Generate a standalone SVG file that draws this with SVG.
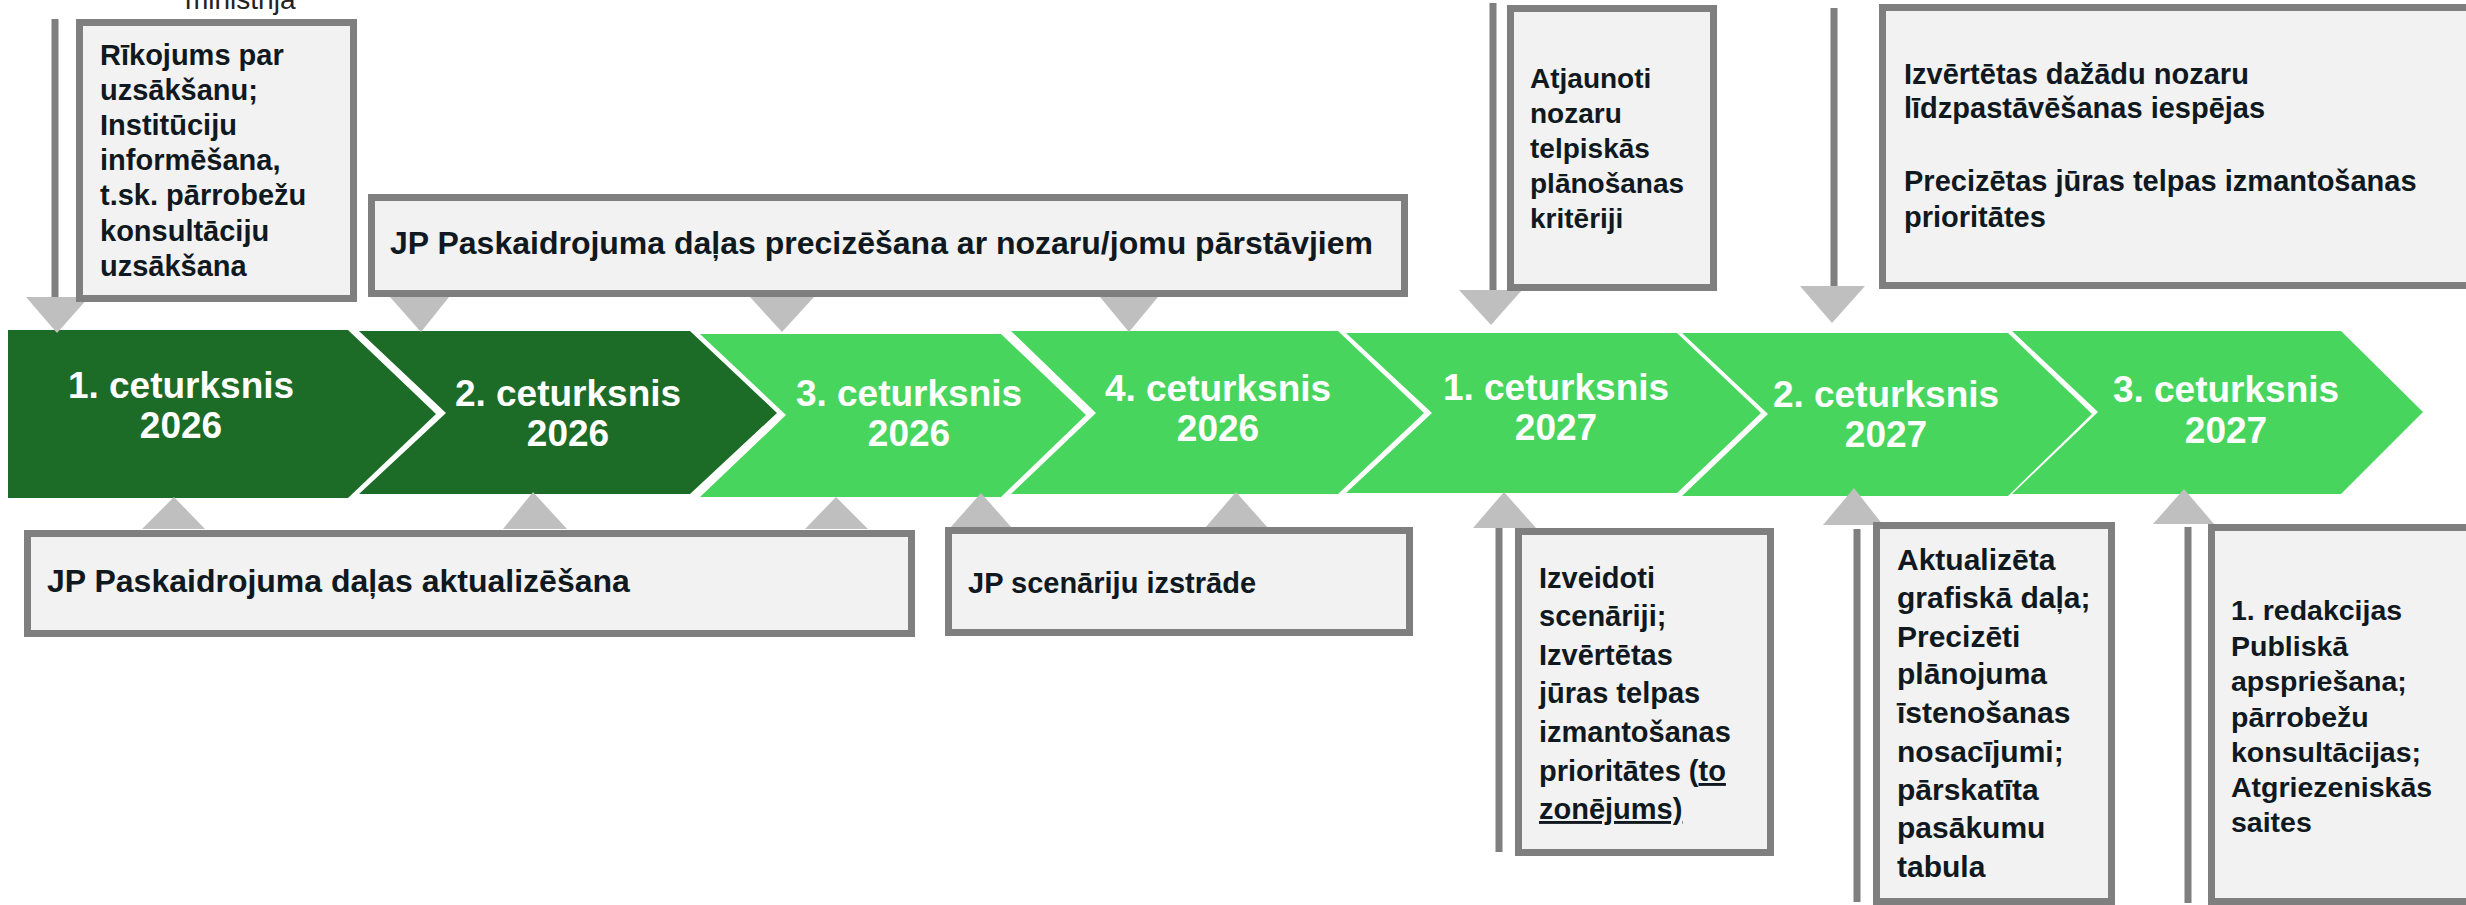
<svg xmlns="http://www.w3.org/2000/svg" width="2466" height="905" viewBox="0 0 2466 905">
<style>
.dk{fill:#1C6B26}
.lt{fill:#48D55D}
.ql{font-family:"Liberation Sans",Arial,sans-serif;font-weight:bold;font-size:37px;fill:#ffffff;text-anchor:middle}
.box{fill:#F2F2F2;stroke:#7F7F7F;stroke-width:7}
.tx{font-family:"Liberation Sans",Arial,sans-serif;font-weight:bold;fill:#101820}
.tri{fill:#BFBFBF}
.bar{stroke:#7F7F7F;stroke-width:7;fill:none}
.u{text-decoration:underline}
</style>
<rect width="2466" height="905" fill="#ffffff"/>

<text x="185" y="9" style="font-family:'Liberation Sans',Arial,sans-serif;font-size:28px;fill:#222">ministrija</text>

<g id="q1-2026">
<polygon class="dk" points="8,330 348,330 436,414 348,498 8,498"/>
<text class="ql" x="181" y="398">1. ceturksnis</text>
<text class="ql" x="181" y="438">2026</text>
</g>
<g id="q2-2026">
<polygon class="dk" points="359,331 690,331 777,413 690,494 359,494 446,413"/>
<text class="ql" x="568" y="406">2. ceturksnis</text>
<text class="ql" x="568" y="446">2026</text>
</g>
<g id="q3-2026">
<polygon class="lt" points="700,334 1001,334 1086,415 1001,497 700,497 786,415"/>
<text class="ql" x="909" y="406">3. ceturksnis</text>
<text class="ql" x="909" y="446">2026</text>
</g>
<g id="q4-2026">
<polygon class="lt" points="1011,331 1338,331 1424,413 1338,494 1011,494 1096,413"/>
<text class="ql" x="1218" y="401">4. ceturksnis</text>
<text class="ql" x="1218" y="441">2026</text>
</g>
<g id="q1-2027">
<polygon class="lt" points="1346,333 1677,333 1761,413 1677,493 1346,493 1432,413"/>
<text class="ql" x="1556" y="400">1. ceturksnis</text>
<text class="ql" x="1556" y="440">2027</text>
</g>
<g id="q2-2027">
<polygon class="lt" points="1682,333 2008,333 2092,414 2008,496 1682,496 1768,414"/>
<text class="ql" x="1886" y="407">2. ceturksnis</text>
<text class="ql" x="1886" y="447">2027</text>
</g>
<g id="q3-2027">
<polygon class="lt" points="2012,331 2341,331 2423,412 2341,494 2012,494 2098,412"/>
<text class="ql" x="2226" y="402">3. ceturksnis</text>
<text class="ql" x="2226" y="443">2027</text>
</g>

<g id="connectors">
<line class="bar" x1="55" y1="19" x2="55" y2="298"/>
<polygon class="tri" points="26,297 89,297 57,333"/>
<polygon class="tri" points="390,297 449,297 421,332"/>
<polygon class="tri" points="750,297 814,297 782,332"/>
<polygon class="tri" points="1100,297 1158,297 1129,332"/>
<line class="bar" x1="1493" y1="3" x2="1493" y2="294"/>
<polygon class="tri" points="1459,290 1522,290 1491,325"/>
<line class="bar" x1="1834" y1="8" x2="1834" y2="287"/>
<polygon class="tri" points="1800,286 1865,286 1832,323"/>
<polygon class="tri" points="142,529 205,529 174,497"/>
<polygon class="tri" points="503,529 567,529 533,492"/>
<polygon class="tri" points="805,529 868,529 836,497"/>
<polygon class="tri" points="950,528 1012,528 981,493"/>
<polygon class="tri" points="1205,528 1268,528 1236,492"/>
<line class="bar" x1="1499" y1="528" x2="1499" y2="852"/>
<polygon class="tri" points="1473,528 1536,528 1504,492"/>
<line class="bar" x1="1857" y1="529" x2="1857" y2="902"/>
<polygon class="tri" points="1823,525 1883,525 1854,488"/>
<line class="bar" x1="2188" y1="527" x2="2188" y2="903"/>
<polygon class="tri" points="2153,524 2214,524 2184,489"/>
</g>

<g id="box-rikojums">
<rect class="box" x="79.5" y="22.5" width="274" height="276"/>
<text class="tx" style="font-size:29px">
<tspan x="100" y="65">Rīkojums par</tspan>
<tspan x="100" y="100">uzsākšanu;</tspan>
<tspan x="100" y="135">Institūciju</tspan>
<tspan x="100" y="170">informēšana,</tspan>
<tspan x="100" y="205">t.sk. pārrobežu</tspan>
<tspan x="100" y="241">konsultāciju</tspan>
<tspan x="100" y="276">uzsākšana</tspan>
</text>
</g>

<g id="box-precizesana">
<rect class="box" x="371.5" y="197.5" width="1033" height="96"/>
<text class="tx" x="390" y="254" style="font-size:32px">JP Paskaidrojuma daļas precizēšana ar nozaru/jomu pārstāvjiem</text>
</g>

<g id="box-kriteriji">
<rect class="box" x="1510.5" y="8.5" width="203" height="279"/>
<text class="tx" style="font-size:28px">
<tspan x="1530" y="88">Atjaunoti</tspan>
<tspan x="1530" y="123">nozaru</tspan>
<tspan x="1530" y="158">telpiskās</tspan>
<tspan x="1530" y="193">plānošanas</tspan>
<tspan x="1530" y="228">kritēriji</tspan>
</text>
</g>

<g id="box-lidzpastavesana">
<rect class="box" x="1882.5" y="7.5" width="600" height="278"/>
<text class="tx" style="font-size:29px">
<tspan x="1904" y="84">Izvērtētas dažādu nozaru</tspan>
<tspan x="1904" y="118">līdzpastāvēšanas iespējas</tspan>
<tspan x="1904" y="191">Precizētas jūras telpas izmantošanas</tspan>
<tspan x="1904" y="227">prioritātes</tspan>
</text>
</g>

<g id="box-aktualizesana">
<rect class="box" x="27.5" y="533.5" width="884" height="100"/>
<text class="tx" x="47" y="592" style="font-size:32px">JP Paskaidrojuma daļas aktualizēšana</text>
</g>

<g id="box-scenariji">
<rect class="box" x="948.5" y="530.5" width="461" height="102"/>
<text class="tx" x="968" y="593" style="font-size:29px">JP scenāriju izstrāde</text>
</g>

<g id="box-izveidoti">
<rect class="box" x="1518.5" y="531.5" width="252" height="321"/>
<text class="tx" style="font-size:29px">
<tspan x="1539" y="588">Izveidoti</tspan>
<tspan x="1539" y="626">scenāriji;</tspan>
<tspan x="1539" y="665">Izvērtētas</tspan>
<tspan x="1539" y="703">jūras telpas</tspan>
<tspan x="1539" y="742">izmantošanas</tspan>
<tspan x="1539" y="781">prioritātes (<tspan class="u">to</tspan></tspan>
<tspan x="1539" y="819" class="u">zonējums)</tspan>
</text>
</g>

<g id="box-grafiska">
<rect class="box" x="1876.5" y="525.5" width="235" height="376"/>
<text class="tx" style="font-size:30px">
<tspan x="1897" y="570">Aktualizēta</tspan>
<tspan x="1897" y="608">grafiskā daļa;</tspan>
<tspan x="1897" y="647">Precizēti</tspan>
<tspan x="1897" y="684">plānojuma</tspan>
<tspan x="1897" y="723">īstenošanas</tspan>
<tspan x="1897" y="762">nosacījumi;</tspan>
<tspan x="1897" y="800">pārskatīta</tspan>
<tspan x="1897" y="838">pasākumu</tspan>
<tspan x="1897" y="877">tabula</tspan>
</text>
</g>

<g id="box-redakcija">
<rect class="box" x="2211.5" y="527.5" width="270" height="374"/>
<text class="tx" style="font-size:28.5px">
<tspan x="2231" y="620">1. redakcijas</tspan>
<tspan x="2231" y="656">Publiskā</tspan>
<tspan x="2231" y="691">apspriešana;</tspan>
<tspan x="2231" y="727">pārrobežu</tspan>
<tspan x="2231" y="762">konsultācijas;</tspan>
<tspan x="2231" y="797">Atgriezeniskās</tspan>
<tspan x="2231" y="832">saites</tspan>
</text>
</g>
</svg>
